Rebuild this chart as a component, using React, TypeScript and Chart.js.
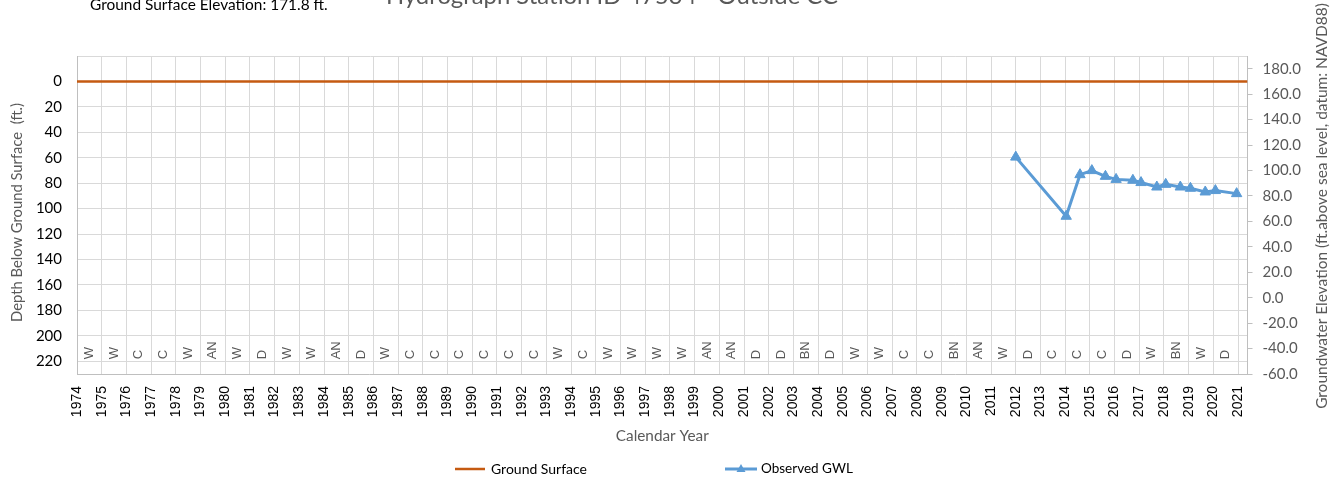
import React, { useEffect, useRef } from "react";
import { Chart, registerables } from "chart.js";

Chart.register(...registerables);

// ---------- texts ----------
const chartTitle = "Hydrograph Station ID 47534 - Outside CC";
const elevationNote = "Ground Surface Elevation: 171.8 ft.";
const xAxisTitle = "Calendar Year";
const leftAxisTitle = "Depth Below Ground Surface  (ft.)";
const rightAxisTitle = "Groundwater Elevation (ft.above sea level, datum: NAVD88)";
const legendGround = "Ground Surface";
const legendGwl = "Observed GWL";

// ---------- tick labels ----------
const yearTicks = [
  1974, 1975, 1976, 1977, 1978, 1979, 1980, 1981, 1982, 1983, 1984, 1985,
  1986, 1987, 1988, 1989, 1990, 1991, 1992, 1993, 1994, 1995, 1996, 1997,
  1998, 1999, 2000, 2001, 2002, 2003, 2004, 2005, 2006, 2007, 2008, 2009,
  2010, 2011, 2012, 2013, 2014, 2015, 2016, 2017, 2018, 2019, 2020, 2021,
];
const depthTicks = [-20, 0, 20, 40, 60, 80, 100, 120, 140, 160, 180, 200, 220];
const elevationTicks = [-60, -40, -20, 0, 20, 40, 60, 80, 100, 120, 140, 160, 180];

// ---------- axis ranges ----------
const xMin = 1974;
const xMax = 2021.38;
const depthMin = -20;
const depthMax = 230;
const elevMin = -60;
const elevMax = 190;

// ---------- water year types ----------
const waterYears = [
  1974, 1975, 1976, 1977, 1978, 1979, 1980, 1981, 1982, 1983, 1984, 1985,
  1986, 1987, 1988, 1989, 1990, 1991, 1992, 1993, 1994, 1995, 1996, 1997,
  1998, 1999, 2000, 2001, 2002, 2003, 2004, 2005, 2006, 2007, 2008, 2009,
  2010, 2011, 2012, 2013, 2014, 2015, 2016, 2017, 2018, 2019, 2020,
];
const waterYearTypes = [
  "W", "W", "C", "C", "W", "AN", "W", "D", "W", "W", "AN", "D",
  "W", "C", "C", "C", "C", "C", "C", "W", "C", "W", "W", "W",
  "W", "AN", "AN", "D", "D", "BN", "D", "W", "W", "C", "C", "BN",
  "AN", "W", "D", "C", "C", "C", "D", "W", "BN", "W", "D",
];
const waterYearLabelDepth = 218.5;

// ---------- series ----------
const groundDates = [1974, 2021.38];
const groundDepths = [0, 0];

const gwlDates = [
  2012.0, 2014.04, 2014.6, 2015.08, 2015.63, 2016.06, 2016.74, 2017.07,
  2017.71, 2018.07, 2018.66, 2019.07, 2019.67, 2020.08, 2020.94,
];
const gwlDepths = [
  59.5, 106, 73.3, 70.1, 74.6, 77, 77.7, 79.5, 83, 80.9, 83, 84, 86.9, 85.8, 88.2,
];

const ORANGE = "#C55A11";
const BLUE = "#5B9BD5";
const GRID = "#D9D9D9";
const AXIS = "#BFBFBF";
const GRAY_TEXT = "#595959";
const CAL = "Lato, 'Liberation Sans', sans-serif";
const ARIAL = "'Liberation Sans', Arial, sans-serif";

function fitSize(ctx: CanvasRenderingContext2D, text: string, family: string, target: number) {
  ctx.font = `100px ${family}`;
  const w = ctx.measureText(text).width;
  return (100 * target) / w;
}

const decorPlugin = {
  id: "decor",
  afterDatasetsDraw(chart: any) {
    const ctx: CanvasRenderingContext2D = chart.ctx;
    const xs = chart.scales.x;
    const ys = chart.scales.y;
    ctx.save();
    // water year type labels
    ctx.fillStyle = GRAY_TEXT;
    ctx.font = `13px ${ARIAL}`;
    ctx.textAlign = "left";
    ctx.textBaseline = "middle";
    waterYears.forEach((yr, i) => {
      const px = xs.getPixelForValue(yr + 0.5);
      const py = ys.getPixelForValue(waterYearLabelDepth);
      ctx.save();
      ctx.translate(px, py);
      ctx.rotate(-Math.PI / 2);
      ctx.fillText(waterYearTypes[i], 0, 0);
      ctx.restore();
    });
    ctx.restore();
  },
  afterDraw(chart: any) {
    const ctx: CanvasRenderingContext2D = chart.ctx;
    const area = chart.chartArea;
    ctx.save();
    // chart title (cut at top)
    let s = fitSize(ctx, chartTitle, CAL, 452);
    ctx.font = `${s}px ${CAL}`;
    ctx.fillStyle = GRAY_TEXT;
    ctx.textAlign = "left";
    ctx.textBaseline = "alphabetic";
    ctx.fillText(chartTitle, 386, 3.5);

    // elevation note
    s = fitSize(ctx, elevationNote, CAL, 238);
    ctx.font = `${s}px ${CAL}`;
    ctx.fillStyle = "#000";
    ctx.fillText(elevationNote, 90, 10);

    // x axis title
    s = fitSize(ctx, xAxisTitle, CAL, 93);
    ctx.font = `${s}px ${CAL}`;
    ctx.fillStyle = GRAY_TEXT;
    ctx.textAlign = "center";
    ctx.textBaseline = "middle";
    ctx.fillText(xAxisTitle, (area.left + area.right) / 2, 436);

    // left axis title
    s = fitSize(ctx, leftAxisTitle, CAL, 219);
    ctx.save();
    ctx.translate(17.5, 212.5);
    ctx.rotate(-Math.PI / 2);
    ctx.font = `${s}px ${CAL}`;
    ctx.fillText(leftAxisTitle, 0, 0);
    ctx.restore();

    // right axis title
    s = fitSize(ctx, rightAxisTitle, CAL, 406);
    ctx.save();
    ctx.translate(1322, 206);
    ctx.rotate(-Math.PI / 2);
    ctx.font = `${s}px ${CAL}`;
    ctx.fillText(rightAxisTitle, 0, 0);
    ctx.restore();

    // legend
    const ly = 469;
    ctx.lineWidth = 2.5;
    ctx.strokeStyle = ORANGE;
    ctx.beginPath();
    ctx.moveTo(455, ly);
    ctx.lineTo(485, ly);
    ctx.stroke();
    ctx.lineWidth = 3;
    ctx.strokeStyle = BLUE;
    ctx.beginPath();
    ctx.moveTo(725, ly);
    ctx.lineTo(757, ly);
    ctx.stroke();
    ctx.fillStyle = BLUE;
    ctx.beginPath();
    ctx.moveTo(741, ly - 5);
    ctx.lineTo(745.5, ly + 3);
    ctx.lineTo(736.5, ly + 3);
    ctx.closePath();
    ctx.fill();

    s = fitSize(ctx, legendGround, CAL, 96);
    ctx.font = `${s}px ${CAL}`;
    ctx.fillStyle = "#000";
    ctx.textAlign = "left";
    ctx.textBaseline = "middle";
    ctx.fillText(legendGround, 491, ly);
    s = fitSize(ctx, legendGwl, CAL, 92);
    ctx.font = `${s}px ${CAL}`;
    ctx.fillText(legendGwl, 761, ly);
    ctx.restore();
  },
};

export default function App() {
  const ref = useRef<HTMLCanvasElement | null>(null);
  useEffect(() => {
    if (!ref.current) return;
    const chart = new Chart(ref.current, {
      type: "line",
      data: {
        datasets: [
          {
            label: legendGround,
            data: groundDates.map((d, i) => ({ x: d, y: groundDepths[i] })),
            borderColor: ORANGE,
            backgroundColor: ORANGE,
            borderWidth: 2.5,
            pointRadius: 0,
            yAxisID: "y",
          },
          {
            label: legendGwl,
            data: gwlDates.map((d, i) => ({ x: d, y: gwlDepths[i] })),
            borderColor: BLUE,
            backgroundColor: BLUE,
            borderWidth: 3,
            pointStyle: "triangle",
            pointRadius: 6,
            pointBorderWidth: 1,
            pointBorderColor: BLUE,
            pointBackgroundColor: BLUE,
            yAxisID: "y",
          },
        ],
      },
      options: {
        animation: false,
        responsive: false,
        maintainAspectRatio: false,
        layout: { padding: { top: 56, left: 0, right: 0, bottom: 0 } },
        plugins: { legend: { display: false }, tooltip: { enabled: false }, title: { display: false } },
        scales: {
          x: {
            type: "linear",
            min: xMin,
            max: xMax,
            afterBuildTicks: (s: any) => {
              s.ticks = yearTicks.map((v) => ({ value: v }));
            },
            afterFit: (s: any) => {
              s.height = 106;
            },
            ticks: {
              autoSkip: false,
              minRotation: 90,
              maxRotation: 90,
              padding: 12,
              color: "#000",
              font: { family: ARIAL, size: 14 },
              callback: (v: any) => String(v),
            },
            grid: { color: GRID, lineWidth: 1, drawTicks: false },
            border: { color: AXIS, width: 1 },
          },
          y: {
            position: "left",
            reverse: true,
            min: depthMin,
            max: depthMax,
            afterBuildTicks: (s: any) => {
              s.ticks = depthTicks.map((v) => ({ value: v }));
            },
            afterFit: (s: any) => {
              s.width = 77;
            },
            ticks: {
              padding: 15,
              color: "#000",
              font: { family: CAL, size: 15 },
              callback: (v: any) => (v === depthMin ? "" : String(v)),
            },
            grid: { color: GRID, lineWidth: 1, drawTicks: false },
            border: { color: AXIS, width: 1 },
          },
          y2: {
            position: "right",
            min: elevMin,
            max: elevMax,
            afterBuildTicks: (s: any) => {
              s.ticks = elevationTicks.map((v) => ({ value: v }));
            },
            afterFit: (s: any) => {
              s.width = 86.5;
            },
            ticks: {
              padding: 10,
              color: GRAY_TEXT,
              font: { family: CAL, size: 15 },
              callback: (v: any) => Number(v).toFixed(1),
            },
            grid: { drawOnChartArea: false, drawTicks: true, tickLength: 5, color: AXIS },
            border: { color: AXIS, width: 1 },
          },
        },
      },
      plugins: [decorPlugin],
    } as any);
    return () => chart.destroy();
  }, []);
  return (
    <div style={{ position: "fixed", left: 0, top: 0, width: 1334, height: 480, background: "#fff" }}>
      <canvas ref={ref} width={1334} height={480} style={{ display: "block", width: 1334, height: 480 }} />
    </div>
  );
}
